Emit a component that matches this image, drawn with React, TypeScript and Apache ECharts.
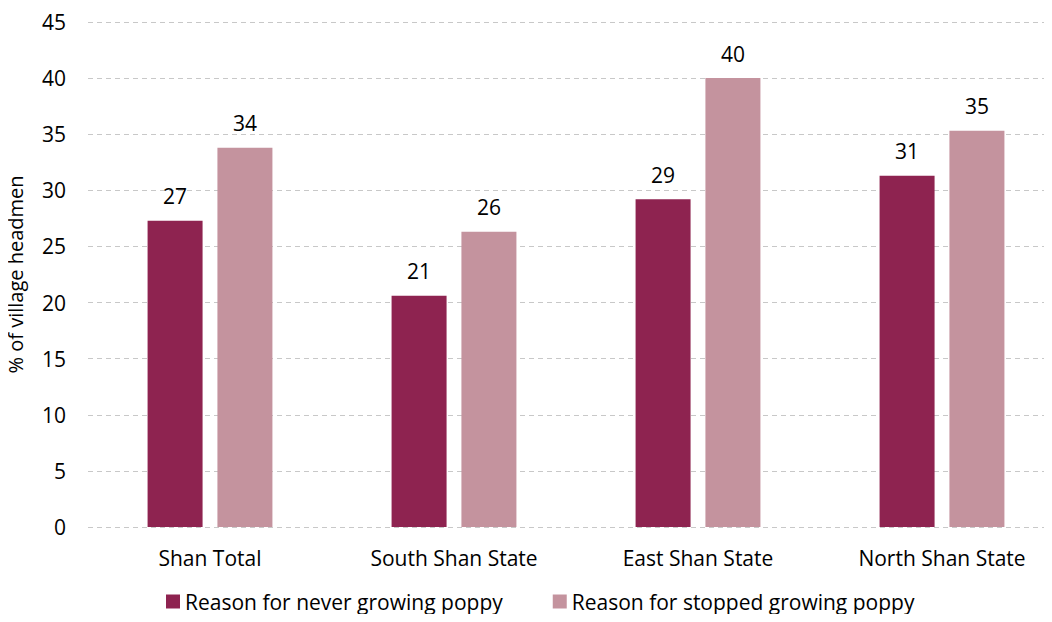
import React, { useEffect, useRef } from "react";
import * as echarts from "echarts";

const categories = ["Shan Total", "South Shan State", "East Shan State", "North Shan State"];
const neverGrowing = [27.3, 20.6, 29.2, 31.3];
const stoppedGrowing = [33.8, 26.3, 40.0, 35.3];
const seriesNames = ["Reason for never growing poppy", "Reason for stopped growing poppy"];

const FONT = "'Open Sans', sans-serif";
const FS = 21;

export default function App() {
  const ref = useRef<HTMLDivElement>(null);
  useEffect(() => {
    if (!ref.current) return;
    const chart = echarts.init(ref.current, undefined, { renderer: "svg" });
    const label = {
      show: true,
      position: "top" as const,
      distance: 14,
      color: "#000",
      fontSize: FS,
      fontFamily: FONT,
      formatter: (p: any) => Math.round(p.value).toString(),
    };
    chart.setOption({
      animation: false,
      textStyle: { fontFamily: FONT },
      grid: { left: 88, top: 22, bottom: 95, width: 976, outerBoundsMode: "none", containLabel: false },
      legend: {
        top: 586,
        left: 161,
        itemWidth: 14,
        itemHeight: 14,
        itemGap: 50,
        icon: "rect",
        textStyle: { fontSize: FS, color: "#000", fontFamily: FONT },
        data: seriesNames,
      },
      xAxis: {
        type: "category",
        data: categories,
        axisLine: { show: false },
        axisTick: { show: false },
        axisLabel: { fontSize: FS, color: "#000", margin: 20, fontFamily: FONT },
      },
      yAxis: {
        type: "value",
        min: 0,
        max: 45,
        interval: 5,
        name: "% of village headmen",
        nameLocation: "middle",
        nameGap: 63,
        nameTextStyle: { fontSize: 20, color: "#000", fontFamily: FONT },
        axisLine: { show: false },
        axisTick: { show: false },
        axisLabel: { fontSize: FS, color: "#000", margin: 22, fontFamily: FONT },
        splitLine: { lineStyle: { type: [5, 4], color: "#c8c8c8", width: 1 } },
      },
      series: [
        {
          name: seriesNames[0],
          type: "bar",
          data: neverGrowing,
          barWidth: 55,
          barGap: "27%",
          itemStyle: { color: "#8E2350" },
          label,
        },
        {
          name: seriesNames[1],
          type: "bar",
          data: stoppedGrowing,
          barWidth: 55,
          itemStyle: { color: "#C4939E" },
          label,
        },
      ],
    });
    return () => chart.dispose();
  }, []);
  return <div ref={ref} style={{ width: 1052, height: 622, margin: -8 }} />;
}
